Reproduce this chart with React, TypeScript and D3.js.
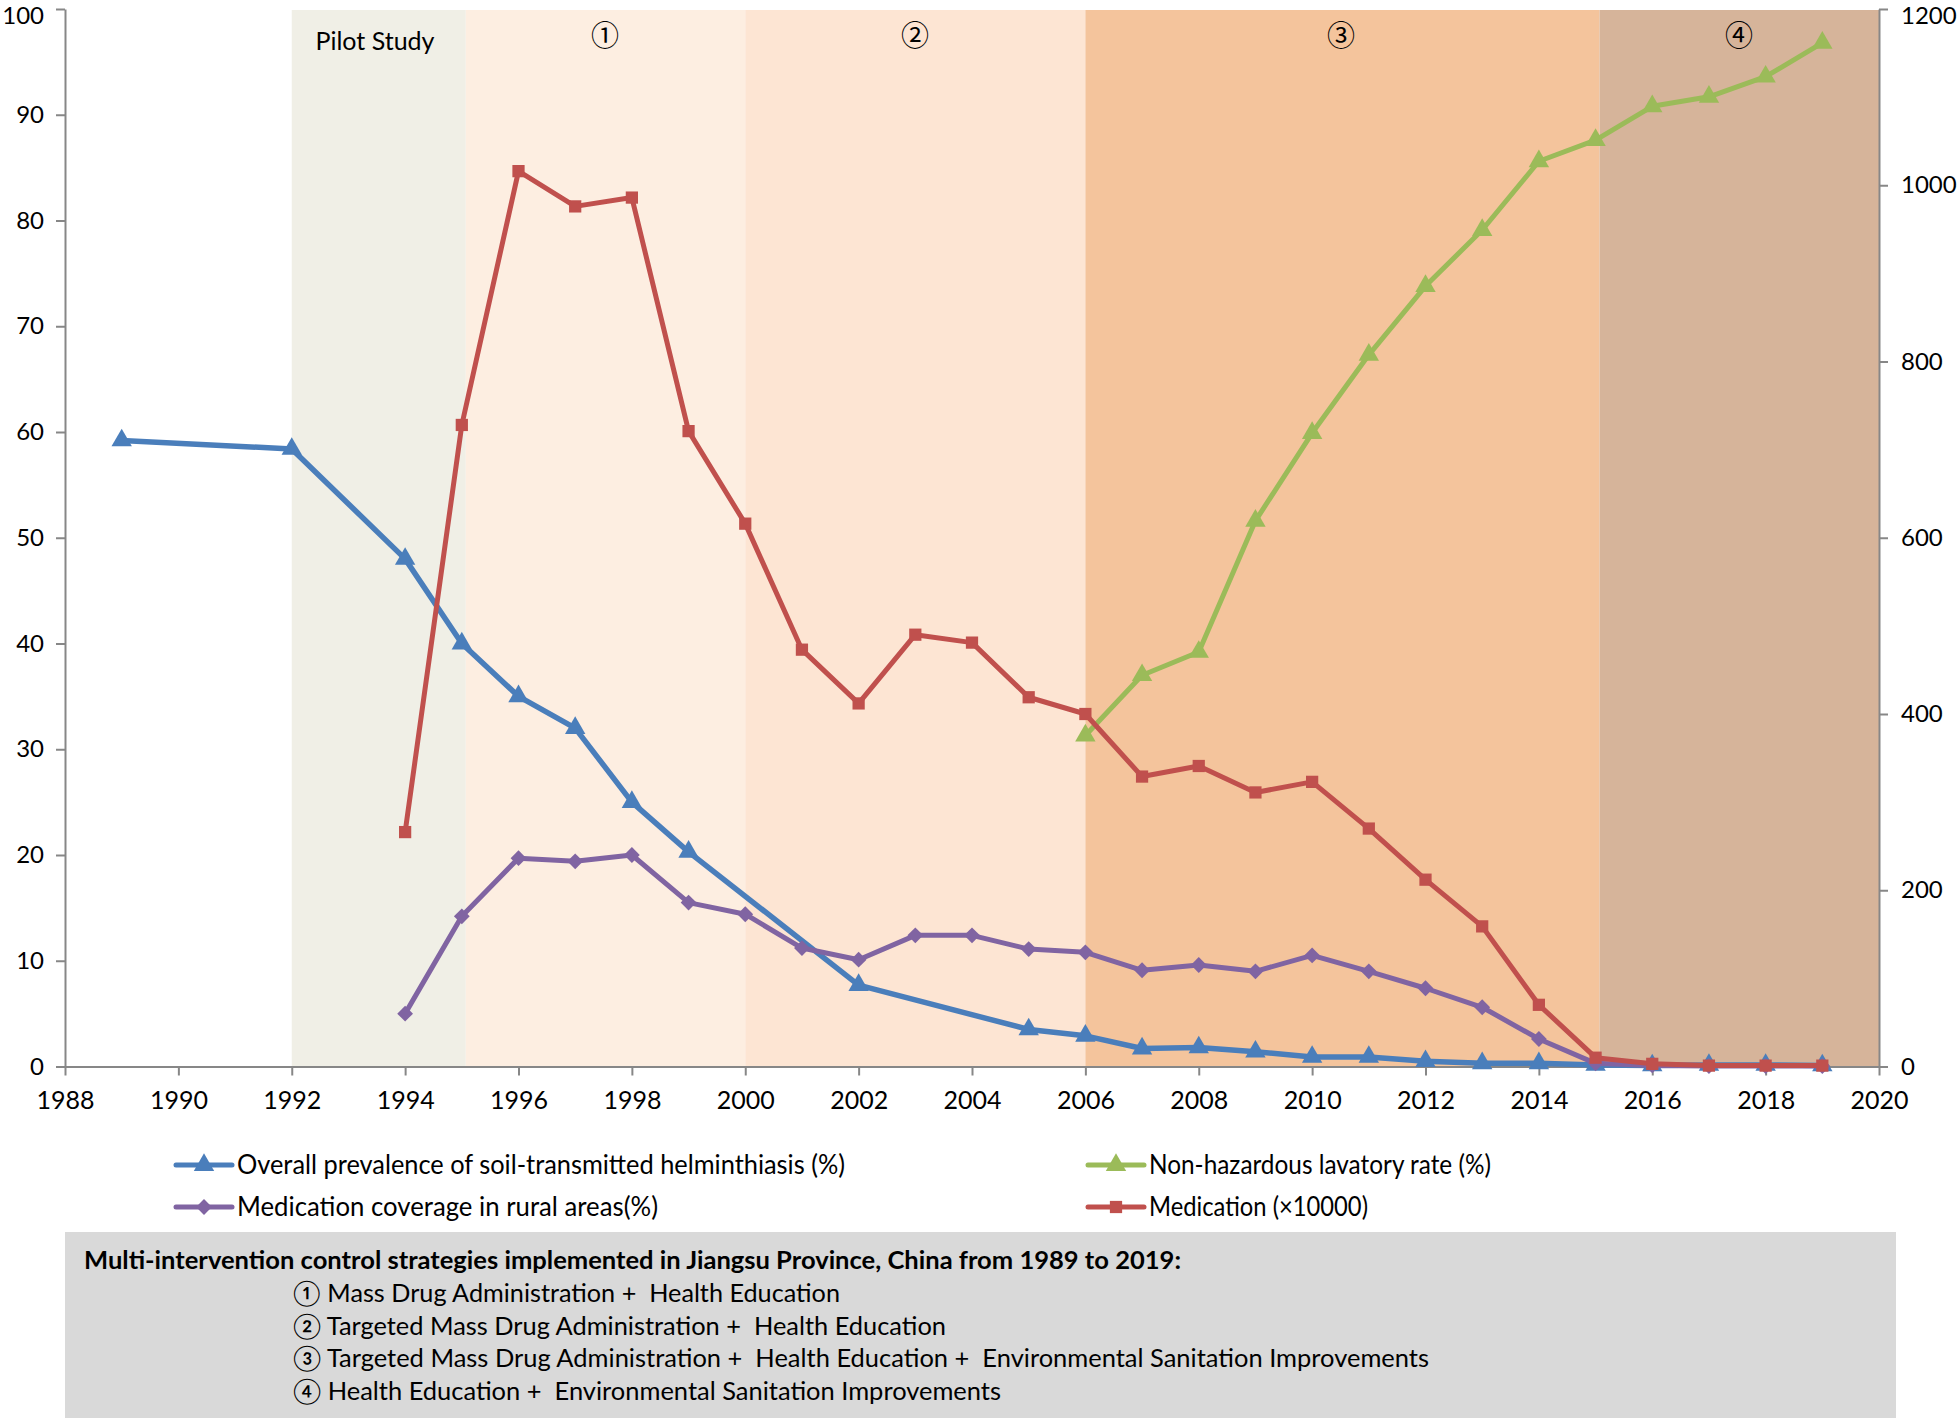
import React, { useEffect, useRef } from 'react';
import * as d3 from 'd3';

// ---- data ----
const prevYears = [1989, 1992, 1994, 1995, 1996, 1997, 1998, 1999, 2002, 2005, 2006, 2007, 2008, 2009, 2010, 2011, 2012, 2013, 2014, 2015, 2016, 2017, 2018, 2019];
const prevalence = [59.2, 58.4, 48.0, 40.0, 35.0, 32.0, 25.0, 20.3, 7.7, 3.5, 2.9, 1.7, 1.8, 1.4, 0.9, 0.9, 0.5, 0.3, 0.3, 0.15, 0.1, 0.15, 0.15, 0.1];

const medYears = [1994, 1995, 1996, 1997, 1998, 1999, 2000, 2001, 2002, 2003, 2004, 2005, 2006, 2007, 2008, 2009, 2010, 2011, 2012, 2013, 2014, 2015, 2016, 2017, 2018, 2019];
const coverage = [5.0, 14.2, 19.7, 19.4, 20.0, 15.5, 14.4, 11.2, 10.1, 12.4, 12.4, 11.1, 10.8, 9.1, 9.6, 9.0, 10.5, 9.0, 7.4, 5.6, 2.6, 0.3, 0.1, 0.05, 0.05, 0.05];
const medication = [266, 728, 1016, 976, 986, 721, 616, 473, 412, 490, 481, 419, 400, 329, 341, 311, 323, 270, 212, 159, 70, 10, 3, 1, 1, 1];

const lavYears = [2006, 2007, 2008, 2009, 2010, 2011, 2012, 2013, 2014, 2015, 2016, 2017, 2018, 2019];
const lavatory = [31.3, 37.0, 39.2, 51.6, 59.9, 67.3, 73.8, 79.1, 85.6, 87.6, 90.8, 91.7, 93.6, 96.8];

const bandLabels = ['Pilot Study', '\u2460', '\u2461', '\u2462', '\u2463'];
const bandStart = [1992, 1995.07, 2000, 2006, 2015.07];
const bandEnd = [1995.07, 2000, 2006, 2015.07, 2020];
const bandColors = ['#F0EFE6', '#FDEEE1', '#FDE5D3', '#F4C49C', '#D6B49A'];

const xTicks = d3.range(1988, 2021, 2);
const leftTicks = d3.range(0, 101, 10);
const rightTicks = d3.range(0, 1201, 200);

const legendLabels = [
  'Overall prevalence of soil-transmitted helminthiasis (%)',
  'Non-hazardous lavatory rate (%)',
  'Medication coverage in rural areas(%)',
  'Medication (\u00d710000)',
];

const boxTitle = 'Multi-intervention control strategies implemented in Jiangsu Province, China from 1989 to 2019:';
const boxLines = [
  '\u2460 Mass Drug Administration +  Health Education',
  '\u2461 Targeted Mass Drug Administration +  Health Education',
  '\u2462 Targeted Mass Drug Administration +  Health Education +  Environmental Sanitation Improvements',
  '\u2463 Health Education +  Environmental Sanitation Improvements',
];

const W = 1959, H = 1418;
const FONT = 'Lato, "Open Sans", sans-serif';
const BLUE = '#4A7EBB', RED = '#C0504D', GREEN = '#9BBB59', PURPLE = '#8064A2';

const x = d3.scaleLinear().domain([1988, 2020]).range([65, 1879]);
const yL = d3.scaleLinear().domain([0, 100]).range([1066.5, 9]);
const yR = d3.scaleLinear().domain([0, 1200]).range([1066.5, 9]);

const tri = d3.symbol(d3.symbolTriangle, 180)();
const sq = d3.symbol(d3.symbolSquare, 150)();
const dia = d3.symbol(d3.symbolSquare, 125)();

function Series({ xs, ys, y, color, marker, rot = 0, width = 5 }) {
  const pts = xs.map((d, i) => [x(d), y(ys[i])]);
  const line = d3.line()(pts as any);
  return (
    <g>
      <path d={line || ''} fill="none" stroke={color} strokeWidth={width} strokeLinejoin="round" />
      {pts.map((p, i) => (
        <path key={i} d={marker} fill={color} transform={`translate(${p[0]},${p[1]}) rotate(${rot})`} />
      ))}
    </g>
  );
}

export default function App() {
  const gx = useRef(null), gl = useRef(null), gr = useRef(null);

  useEffect(() => {
    const style = (g) => {
      g.selectAll('path.domain').attr('stroke', '#878787').attr('stroke-width', 2);
      g.selectAll('.tick line').attr('stroke', '#878787').attr('stroke-width', 2);
      g.selectAll('.tick text').attr('font-family', FONT).attr('font-size', 25).attr('fill', '#000');
    };
    d3.select(gx.current)
      .call(d3.axisBottom(x).tickValues(xTicks).tickFormat(d3.format('d')).tickSize(9).tickSizeOuter(0).tickPadding(16))
      .call(style);
    d3.select(gl.current)
      .call(d3.axisLeft(yL).tickValues(leftTicks).tickFormat(d3.format('d')).tickSize(9).tickSizeOuter(0).tickPadding(12))
      .call(style);
    d3.select(gr.current)
      .call(d3.axisRight(yR).tickValues(rightTicks).tickFormat(d3.format('d')).tickSize(9).tickSizeOuter(0).tickPadding(13))
      .call(style);
    // keep edge labels inside the page
    [gl, gr].forEach((r) => {
      const t = d3.select(r.current).selectAll('.tick text').attr('font-size', 24);
      t.filter((d, i, n) => i === n.length - 1).attr('y', 7);
    });
  }, []);

  const legendPos = [
    [176, 1165], [1088, 1165], [176, 1207], [1088, 1207],
  ];
  const legendLens = [608, 342, 421, 219];
  const legendColors = [BLUE, GREEN, PURPLE, RED];
  const legendMarkers = [tri, tri, dia, sq];

  return (
    <svg width={W} height={H} style={{ position: 'absolute', left: 0, top: 0, background: '#fff' }}>
      {/* intervention periods */}
      {bandLabels.map((lab, i) => (
        <rect key={i} x={x(bandStart[i])} y={10} width={x(bandEnd[i]) - x(bandStart[i])} height={1066.5 - 10} fill={bandColors[i]} />
      ))}
      <text x={375} y={50} textAnchor="middle" fontFamily={FONT} fontSize={25}>{bandLabels[0]}</text>
      {[605, 915, 1341, 1739].map((cx, i) => (
        <text key={i} x={cx} y={46} textAnchor="middle" fontFamily="'Noto Sans CJK SC', serif" fontSize={28}>{bandLabels[i + 1]}</text>
      ))}

      <g ref={gl} transform={`translate(65,0)`} />
      <g ref={gr} transform={`translate(1879,0)`} />
      <g ref={gx} transform={`translate(0,1066.5)`} />

      <Series xs={prevYears} ys={prevalence} y={yL} color={BLUE} marker={tri} width={5.5} />
      <Series xs={lavYears} ys={lavatory} y={yL} color={GREEN} marker={tri} />
      <Series xs={medYears} ys={coverage} y={yL} color={PURPLE} marker={dia} rot={45} />
      <Series xs={medYears} ys={medication} y={yR} color={RED} marker={sq} />

      {/* legend */}
      {legendLabels.map((lab, i) => (
        <g key={i} transform={`translate(${legendPos[i][0]},${legendPos[i][1]})`}>
          <line x1={0} x2={56} y1={0} y2={0} stroke={legendColors[i]} strokeWidth={5} strokeLinecap="round" />
          <path d={legendMarkers[i]} fill={legendColors[i]} transform={`translate(28,0) rotate(${i === 2 ? 45 : 0})`} />
          <text x={61} y={9} fontFamily={FONT} fontSize={26} textLength={legendLens[i]} lengthAdjust="spacingAndGlyphs">{lab}</text>
        </g>
      ))}

      {/* strategy box */}
      <rect x={65} y={1232} width={1831} height={H - 1232} fill="#D9D9D9" />
      <text x={84} y={1269} fontFamily={FONT} fontWeight="bold" fontSize={25} textLength={1097} lengthAdjust="spacingAndGlyphs">{boxTitle}</text>
      {boxLines.map((t, i) => (
        <text key={i} x={293} y={1302 + i * 32.7} fontFamily={FONT} fontSize={25} style={{ whiteSpace: 'pre' }}
          textLength={[547, 653, 1136, 708][i]} lengthAdjust="spacingAndGlyphs">{t}</text>
      ))}
    </svg>
  );
}
